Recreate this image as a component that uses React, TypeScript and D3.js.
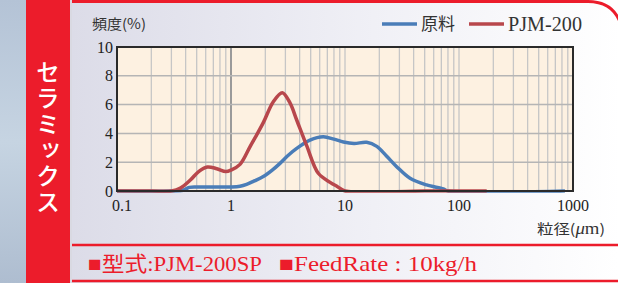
import * as d3 from "d3";
import { useLayoutEffect } from "react";

// particle size (µm) / frequency (%)
const rawSizes = [0.1, 0.3, 0.38, 0.43, 0.5, 0.7, 1.0, 1.2, 1.37, 1.6, 1.92, 2.3, 2.69, 3.2, 3.77, 4.93, 6.45, 8, 9.7, 12, 15.5, 19, 23, 28.4, 37.2, 52, 73, 80, 850];
const rawValues = [0, 0, 0.05, 0.25, 0.28, 0.28, 0.28, 0.33, 0.46, 0.7, 1.0, 1.45, 1.92, 2.5, 2.96, 3.54, 3.77, 3.6, 3.4, 3.3, 3.38, 3.1, 2.45, 1.69, 0.88, 0.42, 0.14, 0, 0];

const pjmSizes = [0.1, 0.2, 0.3, 0.36, 0.44, 0.52, 0.62, 0.75, 0.9, 1.0, 1.2, 1.47, 1.92, 2.35, 2.82, 3.3, 3.77, 4.61, 5.83, 7.4, 8.6, 10, 50, 175];
const pjmValues = [0, 0, 0, 0.2, 0.76, 1.35, 1.67, 1.55, 1.35, 1.45, 1.85, 3.08, 4.75, 6.2, 6.83, 6.1, 4.93, 3.15, 1.23, 0.6, 0.3, 0, 0, 0];

const xTickValues = [0.1, 1, 10, 100, 1000];
const xTickLabels = ["0.1", "1", "10", "100", "1000"];
const yTickValues = [0, 2, 4, 6, 8, 10];

const seriesNames = ["原料", "PJM-200"];
const seriesColors = ["#4a7db8", "#b8474c"];

const W = 618;
const H = 283;
const SERIF = "'Liberation Serif', 'DejaVu Serif', serif";
const JP = "'Noto Sans CJK JP', sans-serif";
const MIXED = "'Liberation Serif', 'Noto Sans CJK JP', serif";
const RED = "#ec1c2b";

export default function App() {
  useLayoutEffect(() => {
    document.body.style.margin = "0";
  }, []);

  const plot = { left: 117, right: 573, top: 47, bottom: 191 };
  const x = d3.scaleLog().domain([0.1, 1000]).range([plot.left, plot.right]);
  const y = d3.scaleLinear().domain([0, 10]).range([plot.bottom, plot.top]);

  // centripetal catmull-rom keeps the peaks round without big overshoot
  const line = d3
    .line<[number, number]>()
    .x((d) => x(d[0]))
    .y((d) => y(d[1]))
    .curve(d3.curveCatmullRom.alpha(0.5));

  const raw = rawSizes.map((s, i) => [s, rawValues[i]] as [number, number]);
  const pjm = pjmSizes.map((s, i) => [s, pjmValues[i]] as [number, number]);

  // minor grid: 1..9 in each decade
  const minor: number[] = [];
  for (const dec of [0.1, 1, 10, 100]) for (let k = 1; k < 10; k++) minor.push(dec * k);
  minor.push(1000);

  return (
    <svg width={W} height={H} style={{ display: "block" }}>
      <defs>
        <linearGradient id="side" x1="0" y1="0" x2="0" y2="1">
          <stop offset="0" stopColor="#b4c3d6" />
          <stop offset="0.5" stopColor="#c6d4e2" />
          <stop offset="1" stopColor="#aebdd0" />
        </linearGradient>
        <linearGradient id="panel" x1="0" y1="0" x2="1" y2="0">
          <stop offset="0" stopColor="#dcdce8" />
          <stop offset="0.55" stopColor="#f0f0f6" />
          <stop offset="1" stopColor="#ffffff" />
        </linearGradient>
        <clipPath id="plotClip">
          <rect x={plot.left} y={plot.top - 5} width={plot.right - plot.left} height={plot.bottom - plot.top + 6.75} />
        </clipPath>
      </defs>

      <rect x={0} y={0} width={26} height={H} fill="url(#side)" />
      <rect x={26} y={0} width={45} height={H} fill={RED} />
      <rect x={70} y={0} width={2} height={H} fill="#d9d9e2" />

      {/* panel with rounded top-right corner */}
      <path
        d={`M72,1.5 H${W - 30} Q${W - 6},1.5 ${W + 2},22 V${H} H72 Z`}
        fill="url(#panel)"
      />
      <path
        d={`M72,1.5 H${W - 30} Q${W - 6},1.5 ${W + 2},22`}
        fill="none"
        stroke={RED}
        strokeWidth={3}
      />

      <text
        x={48}
        y={60}
        fill="#fff"
        fontFamily={JP}
        fontSize={24}
        fontWeight={500}
        style={{ writingMode: "vertical-rl", letterSpacing: "2px" }}
      >
        セラミックス
      </text>

      {/* plot */}
      <rect
        x={plot.left}
        y={plot.top}
        width={plot.right - plot.left}
        height={plot.bottom - plot.top}
        fill="#fdf1e1"
      />
      {minor.map((v, i) => (
        <line
          key={"gx" + i}
          x1={x(v)}
          x2={x(v)}
          y1={plot.top}
          y2={plot.bottom}
          stroke={v === 1 ? "#9a9a9a" : "#c6c6c6"}
          strokeWidth={v === 1 ? 2 : 1.3}
        />
      ))}
      {yTickValues.slice(1, -1).map((v) => (
        <line
          key={"gy" + v}
          x1={plot.left}
          x2={plot.right}
          y1={y(v)}
          y2={y(v)}
          stroke="#b5b5b5"
          strokeWidth={1.5}
        />
      ))}

      <g clipPath="url(#plotClip)">
        <path d={line(raw) ?? ""} fill="none" stroke={seriesColors[0]} strokeWidth={3.5} strokeLinejoin="round" />
        <path d={line(pjm) ?? ""} fill="none" stroke={seriesColors[1]} strokeWidth={3.5} strokeLinejoin="round" />
      </g>

      <rect
        x={plot.left}
        y={plot.top}
        width={plot.right - plot.left}
        height={plot.bottom - plot.top}
        fill="none"
        stroke="#2a2a2a"
        strokeWidth={2}
      />

      {yTickValues.map((v) => (
        <text
          key={"ty" + v}
          x={plot.left - 4}
          y={y(v)}
          textAnchor="end"
          dominantBaseline="central"
          fontFamily={SERIF}
          fontSize={16}
          fill="#222"
        >
          {v}
        </text>
      ))}
      {xTickValues.map((v, i) => (
        <text
          key={"tx" + v}
          x={x(v) + (i === 0 ? 5 : 0)}
          y={211}
          textAnchor="middle"
          fontFamily={SERIF}
          fontSize={16}
          fill="#222"
        >
          {xTickLabels[i]}
        </text>
      ))}

      <text x={92} y={29} fontFamily={JP} fontSize={14} fill="#333" textLength={54} lengthAdjust="spacingAndGlyphs">
        頻度(%)
      </text>
      <text x={537} y={234} fontFamily={JP} fontSize={14} fill="#333" textLength={68} lengthAdjust="spacingAndGlyphs">
        粒径(<tspan fontFamily={SERIF} fontStyle="italic" fontSize={16}>μ</tspan>
        <tspan fontFamily={SERIF} fontSize={16}>m</tspan>)
      </text>

      {/* legend */}
      {seriesNames.map((name, i) => {
        const lx = i === 0 ? 382 : 469;
        return (
          <g key={name}>
            <line x1={lx} x2={lx + 35} y1={24} y2={24} stroke={seriesColors[i]} strokeWidth={3.5} />
            <text
              x={lx + 39}
              y={i === 0 ? 30 : 31}
              fontFamily={i === 0 ? JP : SERIF}
              fontSize={i === 0 ? 17 : 20}
              fill="#333"
              textLength={i === 0 ? 34 : 74}
              lengthAdjust="spacingAndGlyphs"
            >
              {name}
            </text>
          </g>
        );
      })}

      {/* footer */}
      <rect x={72} y={246} width={W - 72} height={35} fill="url(#panel)" />
      <line x1={72} x2={W} y1={245} y2={245} stroke={RED} strokeWidth={2.5} />
      <line x1={72} x2={W} y1={281} y2={281} stroke={RED} strokeWidth={2.5} />
      <text x={88} y={271} fill={RED} fontFamily={MIXED} fontSize={21} textLength={174} lengthAdjust="spacingAndGlyphs">
        ■型式:PJM-200SP
      </text>
      <text x={279} y={271} fill={RED} fontFamily={MIXED} fontSize={21} textLength={198} lengthAdjust="spacingAndGlyphs">
        ■FeedRate : 10kg/h
      </text>
    </svg>
  );
}
